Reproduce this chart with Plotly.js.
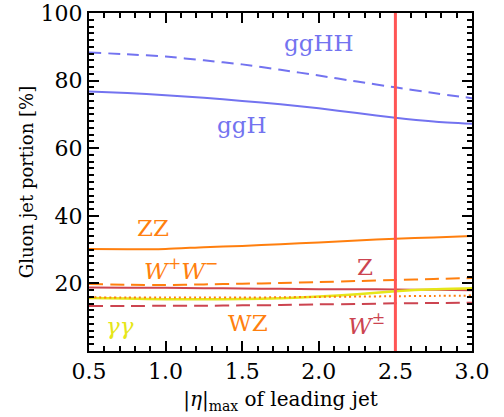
<!DOCTYPE html>
<html>
<head>
<meta charset="utf-8">
<script src="https://cdn.plot.ly/plotly-3.0.1.min.js"></script>
<style>html,body{margin:0;padding:0;background:#fff}#chart{width:504px;height:417px}</style>
</head>
<body>
<div id="chart"></div>
<script>
const etaMax = [0.5, 0.75, 1.0, 1.25, 1.5, 1.75, 2.0, 2.25, 2.5, 2.75, 3.0];
const ggHH = [88.3, 87.8, 87.1, 86.0, 84.8, 83.2, 81.5, 79.7, 78.0, 76.3, 74.8];
const ggH  = [76.8, 76.3, 75.7, 74.9, 74.0, 73.0, 71.8, 70.4, 69.0, 67.9, 67.2];
const ZZ   = [30.2, 30.1, 30.2, 30.7, 31.1, 31.6, 32.1, 32.7, 33.2, 33.6, 34.0];
const WW   = [19.8, 19.6, 19.5, 19.7, 19.9, 20.1, 20.4, 20.7, 21.0, 21.3, 21.6];
const Zj   = [18.8, 18.7, 18.7, 18.6, 18.5, 18.4, 18.3, 18.3, 18.2, 18.1, 18.0];
const AA   = [15.7, 15.5, 15.3, 15.3, 15.4, 15.6, 16.1, 16.8, 17.7, 18.3, 18.6];
const WZ   = [15.9, 15.8, 15.8, 15.8, 15.8, 15.9, 16.0, 16.1, 16.2, 16.3, 16.4];
const Wpm  = [13.3, 13.3, 13.4, 13.4, 13.5, 13.6, 13.8, 13.9, 14.1, 14.2, 14.3];
const cutEta = 2.5;

const labels = [
  {text: 'ggHH', x: 2.0, y: 91.1, color: '#7373f0'},
  {text: 'ggH', x: 1.5, y: 66.9, color: '#7373f0'},
  {text: 'ZZ', x: 0.92, y: 36.4, color: '#ff7f0e'},
  {text: '<i>W</i><sup>+</sup><i>W</i><sup>\u2212</sup>', x: 1.1, y: 24.3, color: '#ff7f0e'},
  {text: 'Z', x: 2.3, y: 24.9, color: '#cc4450'},
  {text: '<i>\u03b3\u03b3</i>', x: 0.7, y: 7.4, color: '#e6e619'},
  {text: 'WZ', x: 1.54, y: 8.3, color: '#ff7f0e'},
  {text: '<i>W</i><sup>\u00b1</sup>', x: 2.31, y: 8.0, color: '#cc4450'}
];

function tr(y, color, dash, width) {
  return {x: etaMax, y: y, type: 'scatter', mode: 'lines',
    line: {color: color, dash: dash, width: width || 2, shape: 'spline', smoothing: 0.6},
    hoverinfo: 'skip', showlegend: false};
}

const data = [
  tr(ggHH, '#7373f0', '12px,7px'),
  tr(ggH, '#7373f0', 'solid'),
  tr(ZZ, '#ff7f0e', 'solid'),
  tr(WW, '#ff7f0e', '14px,7px'),
  tr(Zj, '#cc4450', 'solid'),
  tr(AA, '#e6e619', 'solid', 2.5),
  tr(WZ, '#ff7f0e', '2px,3px'),
  tr(Wpm, '#cc4450', '14px,7px')
];

const font = {family: '"DejaVu Serif", serif', color: '#000'};

const layout = {
  width: 504, height: 417,
  margin: {l: 89, r: 32, t: 13, b: 66},
  paper_bgcolor: '#fff', plot_bgcolor: '#fff',
  font: {family: font.family, color: '#000', size: 20},
  xaxis: {
    range: [0.5, 3.0], tickvals: [0.5, 1.0, 1.5, 2.0, 2.5, 3.0],
    ticktext: ['0.5', '1.0', '1.5', '2.0', '2.5', '3.0'],
    ticks: 'inside', ticklen: 10, tickwidth: 2, tickcolor: '#000',
    minor: {dtick: 0.1, ticks: 'inside', ticklen: 5, tickwidth: 2, tickcolor: '#000'},
    showline: true, linewidth: 2, linecolor: '#000', mirror: 'allticks',
    showgrid: false, zeroline: false,
    tickfont: {family: font.family, size: 22, color: '#000'},
    title: {text: '|<i>\u03b7</i>|<sub>max</sub> of leading jet', font: {family: font.family, size: 20, color: '#000'}, standoff: 9}
  },
  yaxis: {
    range: [0, 100], tickvals: [20, 40, 60, 80, 100],
    ticks: 'inside', ticklen: 10, tickwidth: 2, tickcolor: '#000',
    minor: {dtick: 2, ticks: 'inside', ticklen: 5, tickwidth: 2, tickcolor: '#000'},
    showline: true, linewidth: 2, linecolor: '#000', mirror: 'allticks',
    showgrid: false, zeroline: false,
    tickfont: {family: font.family, size: 22, color: '#000'},
    title: {text: 'Gluon jet portion [%]', font: {family: font.family, size: 18, color: '#000'}, standoff: 2}
  },
  shapes: [{type: 'line', xref: 'x', yref: 'paper', x0: cutEta, x1: cutEta, y0: 0, y1: 1,
    line: {color: '#ff5555', width: 3}}],
  annotations: labels.map(l => ({x: l.x, y: l.y, xref: 'x', yref: 'y', text: l.text, showarrow: false,
    font: {family: font.family, size: 23, color: l.color}}))
};

Plotly.newPlot('chart', data, layout, {displayModeBar: false, staticPlot: true});
</script>
</body>
</html>
